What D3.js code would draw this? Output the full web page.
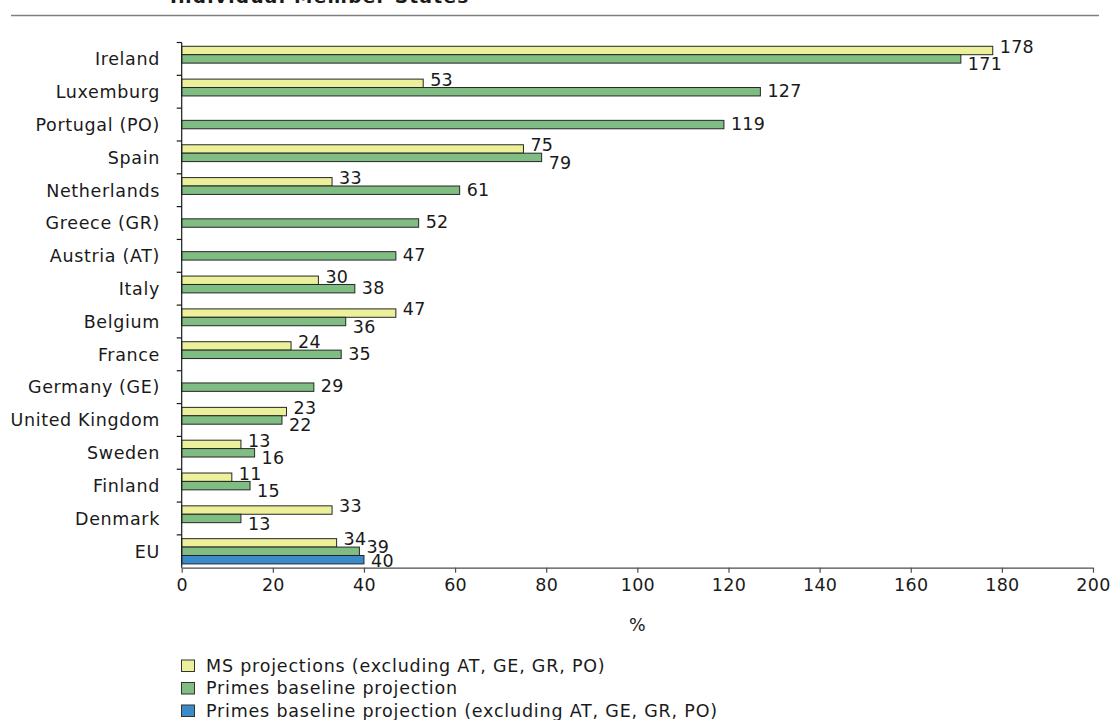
<!DOCTYPE html>
<html>
<head>
<meta charset="utf-8">
<script src="https://cdn.jsdelivr.net/npm/d3@7"></script>
<style>
  html, body { margin: 0; padding: 0; background: #ffffff; }
  svg { display: block; }
  text { font-family: "DejaVu Sans", Verdana, sans-serif; fill: #1a1a1a; }
</style>
</head>
<body>
<script>
// Countries, top to bottom
const categories = [
  "Ireland", "Luxemburg", "Portugal (PO)", "Spain", "Netherlands", "Greece (GR)",
  "Austria (AT)", "Italy", "Belgium", "France", "Germany (GE)", "United Kingdom",
  "Sweden", "Finland", "Denmark", "EU"
];

// MS projections (no value for AT, GE, GR, PO)
const msProjections = [178, 53, null, 75, 33, null, null, 30, 47, 24, null, 23, 13, 11, 33, 34];
// Primes baseline projection
const primesBaseline = [171, 127, 119, 79, 61, 52, 47, 38, 36, 35, 29, 22, 16, 15, 13, 39];
// Primes baseline projection excluding AT, GE, GR, PO (EU aggregate only)
const primesExcl = [null, null, null, null, null, null, null, null, null, null, null, null, null, null, null, 40];

const seriesNames = [
  "MS projections (excluding AT, GE, GR, PO)",
  "Primes baseline projection",
  "Primes baseline projection (excluding AT, GE, GR, PO)"
];
const xTicks = [0, 20, 40, 60, 80, 100, 120, 140, 160, 180, 200];
const xTitle = "%";
const chartTitle = "Individual Member States";

const seriesColors = ["#ecf09b", "#80bd82", "#3b8bcb"];
const seriesValues = [msProjections, primesBaseline, primesExcl];

const W = 1113, H = 720;
const FS = 17.5;
const LS = "0.65px";
const plot = { left: 181.7, right: 1093, top: 42.5, bottom: 567.7 };

const svg = d3.select("body").append("svg")
  .attr("width", W).attr("height", H)
  .attr("viewBox", `0 0 ${W} ${H}`);

svg.append("rect").attr("width", W).attr("height", H).attr("fill", "#fff");

// Heading (runs off the top edge) and rule beneath it
svg.append("text")
  .attr("x", 170).attr("y", 3)
  .attr("font-size", 18.5).attr("font-weight", "bold")
  .attr("letter-spacing", "1.3px")
  .text(chartTitle);
svg.append("line")
  .attr("x1", 11).attr("x2", 1099).attr("y1", 15.5).attr("y2", 15.5)
  .attr("stroke", "#7f7f7f").attr("stroke-width", 1.5);

const x = d3.scaleLinear().domain([0, 200]).range([plot.left, plot.right]);
const y0 = d3.scaleBand().domain(categories).range([plot.top, plot.bottom]).padding(0);
const y1 = d3.scaleBand().domain(d3.range(3)).range([0, y0.bandwidth()])
  .paddingInner(0).paddingOuter(0.45);

// Bars
const rows = categories.map((c, i) => ({
  cat: c,
  vals: seriesValues.map(s => s[i])
}));

const group = svg.append("g");
rows.forEach(r => {
  r.vals.forEach((v, k) => {
    if (v == null) return;
    group.append("rect")
      .attr("x", x(0))
      .attr("y", y0(r.cat) + y1(k))
      .attr("width", x(v) - x(0))
      .attr("height", y1.bandwidth())
      .attr("fill", seriesColors[k])
      .attr("stroke", "#262626")
      .attr("stroke-width", 1);
  });
});

// Value labels; shifted vertically so neighbouring labels do not collide
rows.forEach(r => {
  const [a, b, c] = r.vals;
  r.vals.forEach((v, k) => {
    if (v == null) return;
    let dy = 0;
    if (k === 0) dy = -4;
    if (k === 1) {
      if (c != null) dy = -5;
      else if (a != null && a >= b - 6) dy = 5;
      else dy = -1;
    }
    if (k === 2) dy = 1;
    const cy = y0(r.cat) + y1(k) + y1.bandwidth() / 2 + dy;
    svg.append("text")
      .attr("x", x(v) + 7)
      .attr("y", cy)
      .attr("dy", "0.36em")
      .attr("font-size", FS)
      .attr("letter-spacing", "0.3px")
      .text(v);
  });
});

// Y axis with ticks at band boundaries
const yAxisG = svg.append("g");
yAxisG.append("line")
  .attr("x1", plot.left).attr("x2", plot.left)
  .attr("y1", plot.top).attr("y2", plot.bottom)
  .attr("stroke", "#1a1a1a").attr("stroke-width", 1.2);
categories.forEach(c => {
  yAxisG.append("line")
    .attr("x1", plot.left - 5).attr("x2", plot.left)
    .attr("y1", y0(c)).attr("y2", y0(c))
    .attr("stroke", "#1a1a1a").attr("stroke-width", 1.2);
  yAxisG.append("text")
    .attr("x", 160)
    .attr("y", y0(c) + y0.bandwidth() / 2)
    .attr("dy", "0.36em")
    .attr("text-anchor", "end")
    .attr("font-size", FS)
    .attr("letter-spacing", LS)
    .text(c);
});

// X axis
const xAxis = d3.axisBottom(x).tickValues(xTicks).tickSize(5).tickPadding(6).tickSizeOuter(0);
const xg = svg.append("g")
  .attr("transform", `translate(0,${plot.bottom})`)
  .call(xAxis);
xg.select(".domain").attr("stroke", "#4d4d4d").attr("stroke-width", 1.2);
xg.selectAll(".tick line").attr("stroke", "#4d4d4d").attr("stroke-width", 1.2);
xg.selectAll(".tick text")
  .attr("font-family", "DejaVu Sans, Verdana, sans-serif")
  .attr("font-size", FS).attr("fill", "#1a1a1a")
  .attr("letter-spacing", "0.3px");

svg.append("text")
  .attr("x", x(100)).attr("y", 631)
  .attr("text-anchor", "middle")
  .attr("font-size", FS)
  .text(xTitle);

// Legend
const legend = svg.append("g");
seriesNames.forEach((n, k) => {
  const base = 671.5 + k * 22.5;
  legend.append("rect")
    .attr("x", 181.5).attr("y", base - 11.5)
    .attr("width", 13).attr("height", 11.5)
    .attr("fill", seriesColors[k])
    .attr("stroke", "#333").attr("stroke-width", 1);
  legend.append("text")
    .attr("x", 206).attr("y", base)
    .attr("font-size", FS)
    .attr("letter-spacing", "0.8px")
    .text(n);
});
</script>
</body>
</html>
